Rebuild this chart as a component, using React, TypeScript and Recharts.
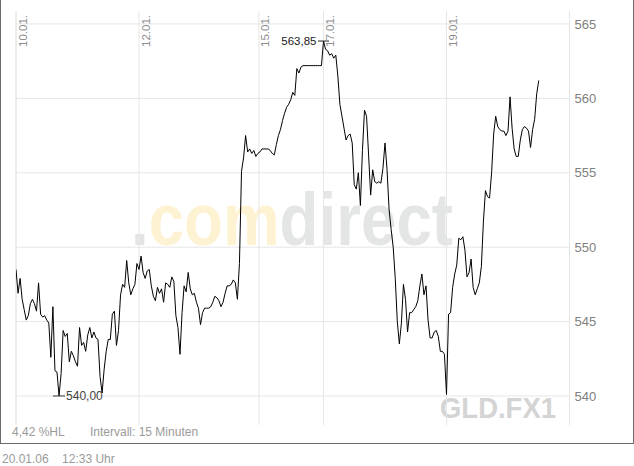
import React from 'react';
import { LineChart, Line, XAxis, YAxis, CartesianGrid, ReferenceLine, ReferenceDot } from 'recharts';

const FONT = '"Liberation Sans", Arial, sans-serif';

// 15-minute closes, one slot per reading, 10.01. to 20.01.06
const prices = [
  548.5, 546.9, 547.9, 546.5, 545.8, 545.1, 545.4, 546.2, 546.5, 546.2,
  545.7, 547.6, 545.5, 545.3, 545.4, 545.1, 544.9, 542.6, 546.0, 541.7,
  541.6, 540.0, 541.5, 544.4, 544.0, 544.2, 542.3, 543.0, 542.7, 542.3,
  542.0, 544.6, 543.4, 543.6, 543.0, 544.1, 544.6, 543.9, 544.3, 543.9,
  543.8, 541.3, 540.2, 541.8, 543.0, 543.8, 543.8, 545.5, 545.7, 543.4,
  544.4, 546.8, 547.5, 547.3, 549.1, 547.6, 546.8, 547.2, 547.5, 548.9,
  548.5, 549.4, 548.3, 547.9, 548.4, 548.5, 547.4, 546.7, 546.4, 547.3,
  546.9, 547.2, 546.3, 547.6, 547.5, 547.3, 548.0, 547.7, 545.4, 544.6,
  542.8, 545.6, 547.4, 547.0, 548.3, 547.2, 546.8, 546.9, 546.3, 545.9,
  544.8, 545.6, 545.9, 545.9, 545.9, 546.0, 546.3, 546.7, 546.6, 546.4,
  546.0, 546.3, 546.9, 547.4, 547.4, 547.5, 547.8, 547.6, 546.5, 548.9,
  555.1, 556.0, 557.5, 556.4, 556.6, 556.3, 556.5, 556.1, 556.3, 556.4,
  556.6, 556.6, 556.6, 556.6, 556.5, 556.3, 556.2, 556.9, 557.5, 557.9,
  558.5, 559.0, 559.4, 559.6, 559.9, 560.4, 560.2, 562.0, 561.7, 562.1,
  562.2, 562.2, 562.2, 562.2, 562.2, 562.2, 562.2, 562.2, 562.2, 562.2,
  563.85, 563.3, 563.2, 562.9, 563.0, 562.7, 562.9, 561.5, 559.6, 558.8,
  558.0, 557.2, 557.5, 557.6, 557.0, 554.2, 553.9, 555.0, 552.8, 556.5,
  559.2, 558.8, 556.2, 553.5, 555.2, 554.4, 554.3, 554.4, 554.3, 555.3,
  557.0, 555.2, 552.5, 551.2, 550.0, 547.9, 545.0, 543.5, 544.9, 547.5,
  546.5, 544.3, 545.6, 545.6, 545.8, 546.0, 546.4, 547.4, 548.2, 546.8,
  547.4, 545.1, 543.9, 543.9, 544.3, 544.4, 544.0, 543.0, 543.0, 542.8,
  540.1, 545.5, 545.6, 547.3, 548.2, 548.8, 550.6, 550.5, 550.7, 549.8,
  548.0, 548.3, 549.2, 547.3, 546.8, 547.2, 547.6, 548.7, 551.7, 553.8,
  553.4, 553.3, 555.0, 557.6, 558.8, 558.1, 557.9, 557.8, 557.8, 557.5,
  557.8, 560.1, 558.0, 556.6, 556.1, 556.1, 557.2, 557.9, 558.1, 558.0,
  557.8, 556.7, 557.9, 558.6, 560.3, 561.2,
];

const gridSlots = [0, 30, 60, 90, 120, 150, 180, 210, 240, 270];
const yTicks = [540, 545, 550, 555, 560, 565];

const dateLabels = ['10.01.', '12.01.', '15.01.', '17.01.', '19.01.'];
const dateSlots = [0, 60, 118.5, 150, 210];

const highSlot = 150;
const highValue = 563.85;
const lowSlot = 21;
const lowValue = 540.0;

const data = prices.map((price, slot) => ({ slot, price }));

const DateLabel = (props: any) => {
  const { viewBox, value } = props;
  if (!viewBox) return null;
  const x = viewBox.x + 10.5;
  const y = 15;
  return (
    <text x={x} y={y} transform={`rotate(-90 ${x} ${y})`} textAnchor="end"
      fontSize={11.5} fill="#8c8c8c" fontFamily={FONT}>
      {value}
    </text>
  );
};

const HighMark = (props: any) => {
  const { cx, cy } = props;
  return (
    <g>
      <line x1={cx - 5.5} y1={cy} x2={cx + 5.5} y2={cy} stroke="#222" strokeWidth={1} />
      <text x={cx - 7} y={cy + 4} textAnchor="end" fontSize={11.5} fill="#222" fontFamily={FONT}>563,85</text>
    </g>
  );
};

const LowMark = (props: any) => {
  const { cx, cy } = props;
  return (
    <g>
      <line x1={cx - 6} y1={cy} x2={cx + 6} y2={cy} stroke="#333" strokeWidth={1} />
      <text x={cx + 7} y={cy + 4} textAnchor="start" fontSize={12} fill="#444" fontFamily={FONT}>540,00</text>
    </g>
  );
};

export default function App() {
  return (
    <div style={{ position: 'absolute', left: 0, top: 0, width: 634, height: 466, background: '#fff', overflow: 'hidden', fontFamily: FONT }}>
      <div style={{
        position: 'absolute', left: 0, top: -1, width: 634, height: 445, boxSizing: 'border-box',
        borderLeft: '1px solid #6b6b6b', borderRight: '1px solid #6b6b6b', borderBottom: '1px solid #6b6b6b',
      }} />

      {/* watermark */}
      <svg width={634} height={466} style={{ position: 'absolute', left: 0, top: 0 }}>
        <text x={131} y={245} fontSize={74} fontWeight="bold" fontFamily={FONT}
          textLength={322} lengthAdjust="spacingAndGlyphs">
          <tspan fill="#e4e4e4">.</tspan>
          <tspan fill="#fdf2d2">com</tspan>
          <tspan fill="#e4e6e5">direct</tspan>
        </text>
        <text x={440} y={418} fontSize={30} fontWeight="bold" fontFamily={FONT} fill="#d4d4d4"
          textLength={116} lengthAdjust="spacingAndGlyphs">GLD.FX1</text>
      </svg>

      <div style={{ position: 'absolute', left: 0, top: 0 }}>
        <LineChart width={634} height={466} data={data} margin={{ top: 11, right: 14.5, bottom: 41, left: 16 }}>
          <CartesianGrid stroke="#e6e6e6" strokeWidth={1} horizontal={false} />
          <XAxis dataKey="slot" type="number" domain={[0, 270]} ticks={gridSlots} height={0}
            tick={false} tickLine={false} axisLine={{ stroke: '#e6e6e6' }} allowDataOverflow />
          <YAxis orientation="right" width={50} domain={[538.05, 565.87]} ticks={yTicks}
            allowDataOverflow tickLine={false} axisLine={false} tickSize={5} tickMargin={0}
            tick={{ fill: '#808080', fontSize: 13, fontFamily: FONT }} />
          {yTicks.map((t) => (
            <ReferenceLine key={`h-${t}`} y={t} stroke="#e6e6e6" strokeWidth={1} />
          ))}
          {dateSlots.map((s, i) => (
            <ReferenceLine key={dateLabels[i]} x={s} stroke="#e6e6e6" strokeWidth={1}
              label={<DateLabel value={dateLabels[i]} />} />
          ))}
          <Line type="linear" dataKey="price" stroke="#000" strokeWidth={1} dot={false}
            activeDot={false} isAnimationActive={false} />
          <ReferenceDot x={highSlot} y={highValue} r={0} shape={(p: any) => <HighMark {...p} />} />
          <ReferenceDot x={lowSlot} y={lowValue} r={0} shape={(p: any) => <LowMark {...p} />} />
        </LineChart>
      </div>

      <div style={{ position: 'absolute', left: 12, top: 425, fontSize: 12, color: '#9a9a9a', whiteSpace: 'nowrap' }}>4,42 %HL</div>
      <div style={{ position: 'absolute', left: 90, top: 425, fontSize: 12, color: '#9a9a9a', whiteSpace: 'nowrap' }}>Intervall: 15 Minuten</div>
      <div style={{ position: 'absolute', left: 2, top: 452, fontSize: 12, color: '#9a9a9a', whiteSpace: 'nowrap' }}>20.01.06&nbsp;&nbsp;&nbsp;&nbsp;12:33 Uhr</div>
    </div>
  );
}
